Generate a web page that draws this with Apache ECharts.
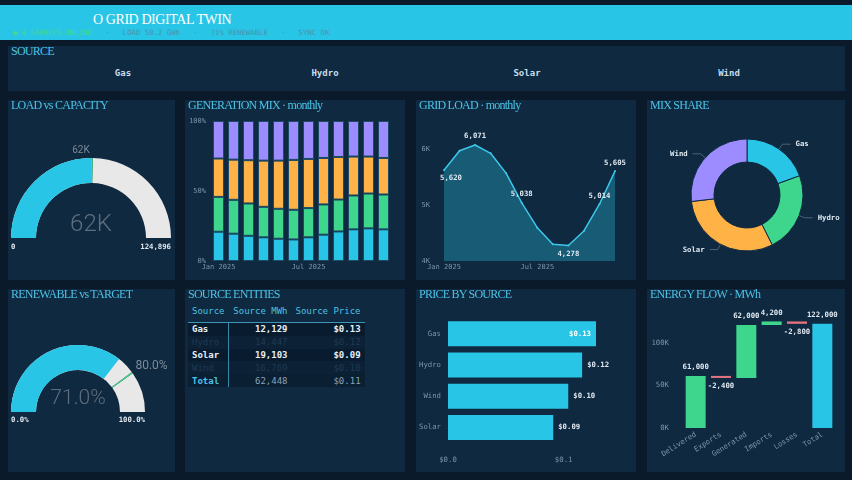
<!DOCTYPE html>
<html>
<head>
<meta charset="utf-8">
<script src="https://cdn.jsdelivr.net/npm/echarts@6/dist/echarts.min.js"></script>
<style>
  body { margin: 0; width: 852px; height: 480px; background: #0a1a2b; overflow: hidden; position: relative;
         font-family: 'DejaVu Sans Mono', monospace; }
  #hdr { position: absolute; left: 0; top: 5px; width: 852px; height: 35px; background: #29c5e6; }
  #hdr .name { position: absolute; left: 93px; top: 8px; font: 14px 'Liberation Serif', serif; color: #fff;
               letter-spacing: -0.42px; line-height: 14px; white-space: nowrap; }
  #hdr .status { position: absolute; left: 13px; top: 23px; font-size: 7.3px; line-height: 9px; color: #4a93ab;
                 white-space: pre; }
  #hdr .status b { color: #44d98f; font-weight: normal; }
  .panel { position: absolute; background: #0f2940; }
  .ttl { position: absolute; left: 3px; top: -1px; font: 12px 'Liberation Serif', serif; color: #4cc3e6;
         letter-spacing: -0.75px; line-height: 12px; white-space: nowrap; z-index: 2; }
  .chart { position: absolute; left: 0; top: 0; width: 100%; height: 100%; }
  .src { position: absolute; top: 22px; width: 120px; margin-left: -60px; text-align: center; font-size: 9px;
         font-weight: bold; color: #c9dcea; line-height: 10px; }
  #tbl { position: absolute; left: 3px; top: 14px; border-collapse: collapse; table-layout: fixed; font-size: 9px; }
  #tbl th { color: #4cc3e6; font-weight: normal; height: 15px; padding: 0 4px 4px 4px; text-align: right;
            border-bottom: 1px solid #3f95b8; white-space: nowrap; }
  #tbl th:first-child, #tbl td:first-child { text-align: left; }
  #tbl td { height: 12.8px; padding: 0 4px; text-align: right; line-height: 12px; white-space: nowrap; }
  #tbl td:first-child { border-right: 1px solid #3a86a8; }
  #tbl tr.odd td { background: #091b2e; }
  #tbl tr.even td { background: #0c2136; }
  #tbl tr.hi td { color: #e8f0f6; font-weight: bold; }
  #tbl tr.dim td { color: #1e3a52; }
  #tbl tr.tot td { color: #8aa2b5; background: #0b1f33; }
  #tbl tr.tot td:first-child { color: #4cc3e6; font-weight: bold; }
</style>
</head>
<body>
<div id="hdr">
  <div class="name">O GRID DIGITAL TWIN</div>
  <div class="status"><b>● 4 SOURCES ONLINE</b>   ·   LOAD 58.2 GWh   ·   71% RENEWABLE   ·   SYNC OK</div>
</div>

<div class="panel" id="pSrc" style="left:8px;top:46px;width:837px;height:45px"><div class="ttl">SOURCE</div></div>

<div class="panel" style="left:8px;top:100px;width:167px;height:180px"><div class="ttl">LOAD vs CAPACITY</div><div class="chart" id="cLoad"></div></div>
<div class="panel" style="left:185px;top:100px;width:220px;height:180px"><div class="ttl">GENERATION MIX · monthly</div><div class="chart" id="cMix"></div></div>
<div class="panel" style="left:416px;top:100px;width:220px;height:180px"><div class="ttl">GRID LOAD · monthly</div><div class="chart" id="cGrid"></div></div>
<div class="panel" style="left:647px;top:100px;width:198px;height:180px"><div class="ttl">MIX SHARE</div><div class="chart" id="cPie"></div></div>

<div class="panel" style="left:8px;top:289px;width:167px;height:183px"><div class="ttl">RENEWABLE vs TARGET</div><div class="chart" id="cRen"></div></div>
<div class="panel" style="left:185px;top:289px;width:220px;height:183px"><div class="ttl">SOURCE ENTITIES</div>
  <table id="tbl">
    <colgroup><col style="width:39px"><col style="width:63px"><col style="width:71px"></colgroup>
    <thead><tr><th>Source</th><th>Source MWh</th><th>Source Price</th></tr></thead>
    <tbody></tbody>
  </table>
</div>
<div class="panel" style="left:416px;top:289px;width:220px;height:183px"><div class="ttl">PRICE BY SOURCE</div><div class="chart" id="cPrice"></div></div>
<div class="panel" style="left:647px;top:289px;width:198px;height:183px"><div class="ttl">ENERGY FLOW · MWh</div><div class="chart" id="cFlow"></div></div>

<script>
// données
const sources = ['Gas', 'Hydro', 'Solar', 'Wind'];
const sourceMwh = [12129, 14447, 19103, 16769];
const sourcePrice = [0.128, 0.116, 0.091, 0.104];

const months = ['Jan 2025', 'Feb 2025', 'Mar 2025', 'Apr 2025', 'May 2025', 'Jun 2025',
                'Jul 2025', 'Aug 2025', 'Sep 2025', 'Oct 2025', 'Nov 2025', 'Dec 2025'];
// part de chaque source (%) par mois
const mixGas = [20.9, 19.5, 18.0, 16.9, 15.9, 15.4, 16.9, 18.8, 21.1, 22.6, 23.3, 22.6];
const mixHydro = [24.9, 24.2, 23.1, 21.8, 21.4, 21.2, 20.9, 21.6, 22.8, 24.2, 24.9, 24.9];
const mixSolar = [27.4, 28.7, 30.9, 33.0, 34.4, 35.6, 35.1, 33.2, 30.4, 27.8, 26.4, 26.1];
const mixWind = [26.8, 27.6, 28.0, 28.3, 28.3, 27.8, 27.1, 26.4, 25.7, 25.4, 25.4, 26.4];

const gridLoad = [5620, 5970, 6071, 5923, 5565, 5038, 4595, 4298, 4278, 4536, 5014, 5605];

const loadValue = 62448;
const loadCapacity = 124896;
const renewableValue = 71.0;
const renewableTarget = 80.0;

const flowSteps = ['Delivered', 'Exports', 'Generated', 'Imports', 'Losses', 'Total'];
const flowValues = [61000, -2400, 62000, 4200, -2800, 122000];

const mixTicks = ['0%', '50%', '100%'];

// couleurs
const cyan = '#29c5e6', green = '#3dd68c', orange = '#ffb347', purple = '#9d8cff', red = '#e0737f';
const mono = "'DejaVu Sans Mono', monospace";
const axisGrey = '#7d95a8';
const valueText = { color: '#dfe8f0', fontWeight: 'bold', fontSize: 7.3, fontFamily: mono };
const fmt = v => v.toLocaleString('en-US');

// bandeau SOURCE
const pSrc = document.getElementById('pSrc');
sources.forEach((s, i) => {
  const d = document.createElement('div');
  d.className = 'src';
  d.style.left = (115 + 202 * i) + 'px';
  d.textContent = s;
  pSrc.appendChild(d);
});

// tableau
const tbody = document.querySelector('#tbl tbody');
sources.forEach((s, i) => {
  const tr = document.createElement('tr');
  tr.className = (i % 2 === 0 ? 'odd hi' : 'even dim');
  tr.innerHTML = '<td>' + s + '</td><td>' + fmt(sourceMwh[i]) + '</td><td>$' + sourcePrice[i].toFixed(2) + '</td>';
  tbody.appendChild(tr);
});
const totalMwh = sourceMwh.reduce((a, b) => a + b, 0);
const avgPrice = sourcePrice.reduce((a, b) => a + b, 0) / sourcePrice.length;
const trT = document.createElement('tr');
trT.className = 'tot';
trT.innerHTML = '<td>Total</td><td>' + fmt(totalMwh) + '</td><td>$' + avgPrice.toFixed(2) + '</td>';
tbody.appendChild(trT);

// jauge charge / capacité
const cLoad = echarts.init(document.getElementById('cLoad'));
cLoad.setOption({
  textStyle: { fontFamily: mono },
  series: [{
    type: 'gauge', center: [83, 138], radius: 80, startAngle: 180, endAngle: 0,
    min: 0, max: loadCapacity, splitNumber: 1,
    progress: { show: true, width: 25, itemStyle: { color: cyan } },
    axisLine: { lineStyle: { width: 25, color: [[0.5, '#e8e8e8'], [0.507, green], [1, '#e8e8e8']] } },
    axisTick: { show: false },
    splitLine: { show: false, length: 0, distance: 0 },
    axisLabel: Object.assign({ distance: 0, lineHeight: 18, formatter: v => '\n' + fmt(v) }, valueText),
    pointer: { show: false },
    anchor: { show: false },
    title: { offsetCenter: [-10, -88], color: '#7b8997', fontSize: 10, fontFamily: 'Roboto' },
    detail: { offsetCenter: [0, -13], color: '#5f6e7d', fontSize: 24, fontWeight: 300, fontFamily: 'Roboto',
              formatter: v => Math.round(v / 1000) + 'K' },
    data: [{ value: loadValue, name: Math.round(loadValue / 1000) + 'K' }]
  }]
});

// mix de production
const cMix = echarts.init(document.getElementById('cMix'));
const mixSeries = [['Gas', mixGas, cyan], ['Hydro', mixHydro, green], ['Solar', mixSolar, orange], ['Wind', mixWind, purple]];
cMix.setOption({
  textStyle: { fontFamily: mono },
  grid: { left: 26, right: 14, top: 21, bottom: 19 },
  xAxis: {
    type: 'category', data: months,
    axisLine: { show: false }, axisTick: { show: false },
    axisLabel: { interval: 5, color: axisGrey, fontSize: 7, margin: 3 }
  },
  yAxis: {
    type: 'value', min: 0, max: 100, interval: 50,
    splitLine: { show: false },
    axisLabel: { color: axisGrey, fontSize: 7, margin: 5, formatter: v => mixTicks[v / 50] }
  },
  series: mixSeries.map(([name, data, color]) => ({
    name, type: 'bar', stack: 'mix', data, barWidth: 11,
    itemStyle: { color, borderColor: '#1d4a66', borderWidth: 1 }
  }))
});

// charge réseau
const loadLabelPos = { 0: 'bottom', 2: 'top', 5: 'top', 8: 'bottom', 10: 'top', 11: 'top' };
const cGrid = echarts.init(document.getElementById('cGrid'));
cGrid.setOption({
  textStyle: { fontFamily: mono },
  grid: { left: 28, right: 21, top: 21, bottom: 19 },
  xAxis: {
    type: 'category', data: months, boundaryGap: false,
    axisLine: { show: false }, axisTick: { show: false },
    axisLabel: { interval: 5, color: axisGrey, fontSize: 7, margin: 3 }
  },
  yAxis: {
    type: 'value', min: 4000, max: 6500, interval: 1000,
    splitLine: { show: false },
    axisLabel: { color: axisGrey, fontSize: 7, margin: 14, showMaxLabel: false, formatter: v => (v / 1000) + 'K' }
  },
  series: [{
    type: 'line', showSymbol: true, showAllSymbol: true, symbol: 'circle', symbolSize: 2, smooth: false,
    itemStyle: { color: '#3cc8ea' },
    lineStyle: { color: '#3cc8ea', width: 1.5 },
    areaStyle: { color: 'rgba(41,197,230,0.45)' },
    label: { show: false },
    data: gridLoad.map((v, i) => loadLabelPos[i]
      ? { value: v, label: Object.assign({ show: true, position: loadLabelPos[i], distance: 4,
                                           offset: i === 0 ? [7, -1] : [0, 0],
                                           formatter: p => fmt(p.value) }, valueText) }
      : v)
  }]
});

// part du mix
const cPie = echarts.init(document.getElementById('cPie'));
cPie.setOption({
  textStyle: { fontFamily: mono },
  color: [cyan, green, orange, purple],
  series: [{
    type: 'pie', center: [100, 95], radius: [33, 56], startAngle: 90,
    itemStyle: { borderColor: '#0f2940', borderWidth: 1 },
    label: Object.assign({ formatter: '{b}' }, valueText),
    labelLine: { length: 6, length2: 8, lineStyle: { color: '#4d6275' } },
    data: sources.map((s, i) => ({ name: s, value: sourceMwh[i] }))
  }]
});

// jauge renouvelable
const cRen = echarts.init(document.getElementById('cRen'));
const tgt = renewableTarget / 100;
cRen.setOption({
  textStyle: { fontFamily: mono },
  series: [{
    type: 'gauge', center: [70, 123], radius: 67, startAngle: 180, endAngle: 0,
    min: 0, max: 100, splitNumber: 1,
    progress: { show: true, width: 25, itemStyle: { color: cyan } },
    axisLine: { lineStyle: { width: 25, color: [[tgt - 0.004, '#e8e8e8'], [tgt + 0.004, green], [1, '#e8e8e8']] } },
    axisTick: { show: false },
    splitLine: { show: false, length: 0, distance: 0 },
    axisLabel: Object.assign({ distance: 0, lineHeight: 16, formatter: v => '\n' + v.toFixed(1) + '%' }, valueText),
    pointer: { show: false },
    anchor: { show: false },
    title: { offsetCenter: [73.5, -46], color: '#7e8b97', fontSize: 12, fontFamily: 'Roboto' },
    detail: { offsetCenter: [0, -13], color: '#5f6e7d', fontSize: 21, fontWeight: 300, fontFamily: 'Roboto',
              formatter: v => v.toFixed(1) + '%' },
    data: [{ value: renewableValue, name: renewableTarget.toFixed(1) + '%' }]
  }]
});

// prix par source (tri décroissant)
const priceOrder = sources.map((s, i) => i).sort((a, b) => sourcePrice[b] - sourcePrice[a]);
const cPrice = echarts.init(document.getElementById('cPrice'));
cPrice.setOption({
  textStyle: { fontFamily: mono },
  grid: { left: 32, right: 40, top: 29, bottom: 29 },
  xAxis: {
    type: 'value', min: 0, max: 'dataMax', interval: 0.1,
    splitLine: { show: false },
    axisLabel: { color: axisGrey, fontSize: 7.3, margin: 14, showMaxLabel: false, formatter: v => '$' + v.toFixed(1) }
  },
  yAxis: {
    type: 'category', inverse: true, data: priceOrder.map(i => sources[i]),
    axisLine: { show: false }, axisTick: { show: false },
    axisLabel: { color: axisGrey, fontSize: 7.3, margin: 7 }
  },
  series: [{
    type: 'bar', barWidth: 25,
    itemStyle: { color: cyan },
    label: Object.assign({ show: true, position: 'right', distance: 5, formatter: p => '$' + p.value.toFixed(2) }, valueText),
    data: priceOrder.map((i, k) => k === 0
      ? { value: sourcePrice[i], label: { position: 'insideRight', color: '#ffffff' } }
      : sourcePrice[i])
  }]
});

// flux d'énergie (cascade)
const flowBase = [], flowSize = [];
let running = 0;
flowValues.forEach((v, i) => {
  if (i === flowValues.length - 1) { flowBase.push(0); flowSize.push(v); return; }
  if (v >= 0) { flowBase.push(running); running += v; } else { running += v; flowBase.push(running); }
  flowSize.push(Math.abs(v));
});
const cFlow = echarts.init(document.getElementById('cFlow'));
cFlow.setOption({
  textStyle: { fontFamily: mono },
  grid: { left: 36, right: 10, top: 28, bottom: 44 },
  xAxis: {
    type: 'category', data: flowSteps,
    axisLine: { show: false }, axisTick: { show: false },
    axisLabel: { color: axisGrey, fontSize: 7.3, rotate: 32, interval: 0, margin: 6 }
  },
  yAxis: {
    type: 'value', min: 0, max: 130000, interval: 50000,
    splitLine: { show: false },
    axisLabel: { color: axisGrey, fontSize: 7.3, margin: 14, showMaxLabel: false, formatter: v => (v / 1000) + 'K' }
  },
  series: [
    { type: 'bar', stack: 'flow', barWidth: 20, itemStyle: { color: 'transparent' }, data: flowBase, silent: true },
    {
      type: 'bar', stack: 'flow', barWidth: 20,
      data: flowSize.map((s, i) => {
        const v = flowValues[i];
        const last = i === flowValues.length - 1;
        return {
          value: s,
          itemStyle: { color: last ? cyan : (v < 0 ? red : green) },
          label: Object.assign({ show: true, position: v < 0 ? 'bottom' : 'top', formatter: () => fmt(v) }, valueText)
        };
      })
    }
  ]
});
</script>
</body>
</html>
